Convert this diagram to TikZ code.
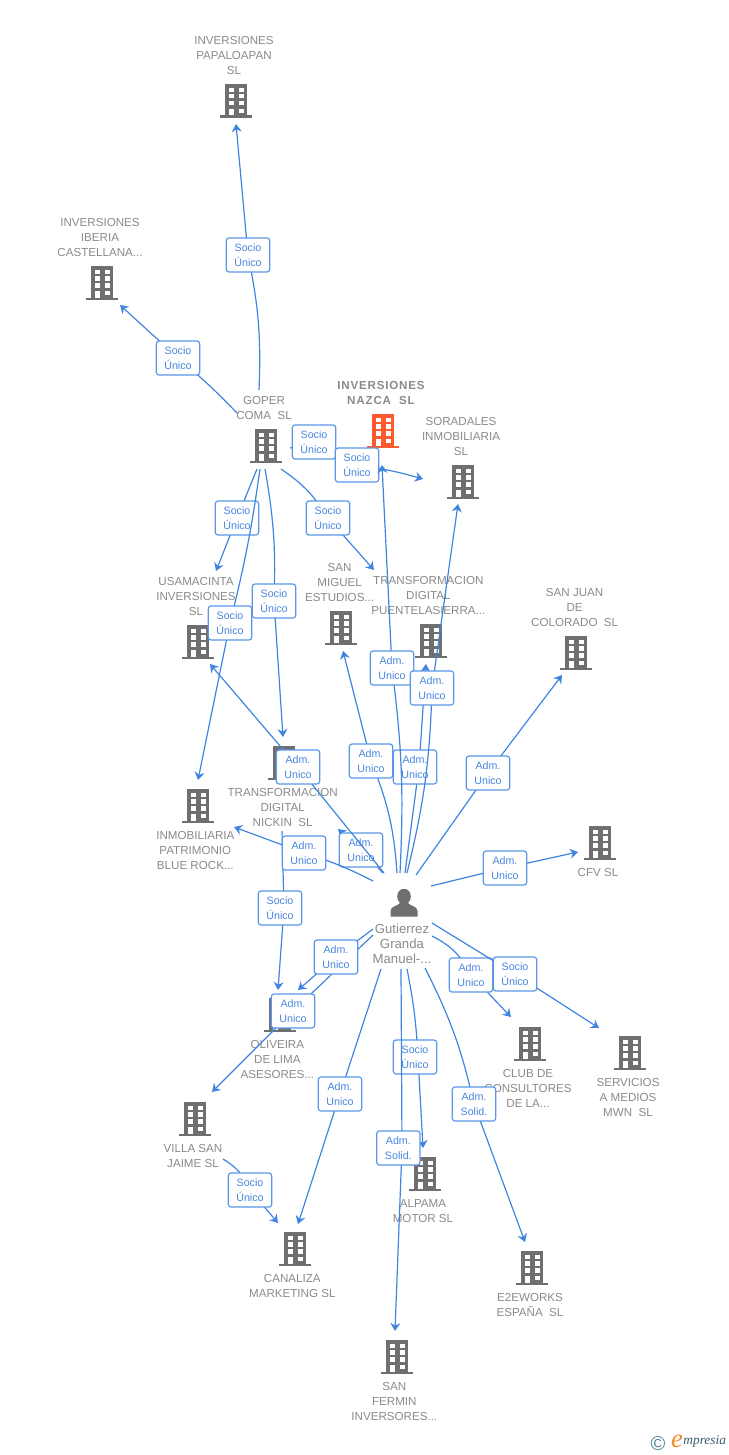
\documentclass[tikz,border=0pt]{standalone}
\usepackage{fontspec}
\setmainfont{Liberation Sans}
\newfontfamily\logofont{Liberation Serif}
\usetikzlibrary{positioning,arrows.meta}
\definecolor{linkBlue}{HTML}{3F85E0}
\definecolor{boxBlue}{HTML}{5B97E8}
\definecolor{relText}{HTML}{4A86E0}
\definecolor{nameGray}{HTML}{8A8A8A}
\definecolor{iconGray}{HTML}{6F6F6F}
\definecolor{iconRed}{HTML}{FF5A2E}
\definecolor{logoBlue}{HTML}{4F8199}
\definecolor{logoOrange}{HTML}{F28C28}
\tikzset{
  icon/.style={inner sep=0pt, minimum width=24pt, minimum height=25.5pt,
    path picture={
      \begin{scope}[shift={(path picture bounding box.center)}, x=.75pt, y=-.75pt]
        \fill[#1] (-11,-17) rectangle (11,15);
        \fill[#1] (-16,14.5) rectangle (16,17);
        \foreach \y in {-13,-6.7,.3,7.7} {
          \fill[white] (-7.3,\y) rectangle (-2.3,\y+4.2);
          \fill[white] (2.7,\y) rectangle (7.7,\y+4.2);
        }
        \fill[white] (-7.3,7.7) rectangle (-2.3,14.5);
      \end{scope}
    }},
  icon/.default=iconGray,
  personicon/.style={inner sep=0pt, minimum width=30pt, minimum height=21pt,
    path picture={
      \begin{scope}[shift={(path picture bounding box.center)}, x=.75pt, y=-.75pt]
        \fill[iconGray] (0,-6.5) ellipse (6.8 and 7.8);
        \fill[iconGray] (-13.5,13.5) -- (-13.5,8) .. controls (-13.5,3) and (-6,3) .. (-4,0)
          -- (4,0) .. controls (6,3) and (13.5,3) .. (13.5,8) -- (13.5,13.5) -- cycle;
      \end{scope}
    }},
  ename/.style={inner sep=0pt, align=center, text=nameGray, font=\fontsize{8.7}{11.25}\selectfont},
  link/.style={draw=linkBlue, line width=.9pt, -{Stealth[length=6pt,width=7.5pt,inset=2pt]}},
  rel/.style={draw=boxBlue, fill=white, rounded corners=2pt, line width=.9pt, inner sep=0pt,
    minimum width=32.5pt, minimum height=25.5pt, align=center, text=relText,
    font=\fontsize{8}{11.25}\selectfont}
}
\begin{document}
\begin{tikzpicture}[x=.75pt, y=-.75pt]
  \useasboundingbox (0,0) rectangle (728,1455);

  % Companies and their names
  \node[icon] (papaloapan) at (236,101) {};
  \node[ename, above=7pt of papaloapan, xshift=-1.5pt] (papaloapanName) {INVERSIONES\\PAPALOAPAN\\SL};
  \node[icon] (iberia) at (102,283) {};
  \node[ename, above=7pt of iberia, xshift=-1.5pt] (iberiaName) {INVERSIONES\\IBERIA\\CASTELLANA...};
  \node[icon] (goper) at (266,446) {};
  \node[ename, above=7pt of goper, xshift=-1.5pt] (goperName) {GOPER\\COMA\ \ SL};
  \node[icon=iconRed] (nazca) at (383,431) {};
  \node[ename, above=7pt of nazca, xshift=-1.5pt, font=\fontsize{8.7}{11.25}\selectfont\bfseries\addfontfeatures{LetterSpace=7}] (nazcaName) {INVERSIONES\\NAZCA\ \ SL};
  \node[icon] (soradales) at (463,482) {};
  \node[ename, above=7pt of soradales, xshift=-1.5pt] (soradalesName) {SORADALES\\INMOBILIARIA\\SL};
  \node[icon] (usamacinta) at (198,642) {};
  \node[ename, above=7pt of usamacinta, xshift=-1.5pt] (usamacintaName) {USAMACINTA\\INVERSIONES\\SL};
  \node[icon] (sanmiguel) at (341,628) {};
  \node[ename, above=7pt of sanmiguel, xshift=-1pt] (sanmiguelName) {SAN\\MIGUEL\\ESTUDIOS...};
  \node[icon] (puente) at (431,641) {};
  \node[ename, above=7pt of puente, xshift=-2pt] (puenteName) {TRANSFORMACION\\DIGITAL\\PUENTELASIERRA...};
  \node[icon] (sanjuan) at (576,653) {};
  \node[ename, above=7pt of sanjuan, xshift=-1pt] (sanjuanName) {SAN JUAN\\DE\\COLORADO\ \ SL};
  \node[icon] (nickin) at (284,763) {};
  \node[ename, below=6pt of nickin, xshift=-1pt] (nickinName) {TRANSFORMACION\\DIGITAL\\NICKIN\ \ SL};
  \node[icon] (inmobiliaria) at (198,806) {};
  \node[ename, below=6pt of inmobiliaria, xshift=-2pt] (inmobiliariaName) {INMOBILIARIA\\PATRIMONIO\\BLUE ROCK...};
  \node[icon] (cfv) at (600,843) {};
  \node[ename, below=6pt of cfv, xshift=-1.5pt] (cfvName) {CFV SL};
  \node[icon] (oliveira) at (280,1015) {};
  \node[ename, below=6pt of oliveira, xshift=-2pt] (oliveiraName) {OLIVEIRA\\DE LIMA\\ASESORES...};
  \node[icon] (villa) at (195,1119) {};
  \node[ename, below=6pt of villa, xshift=-1.5pt] (villaName) {VILLA SAN\\JAIME SL};
  \node[icon] (club) at (530,1044) {};
  \node[ename, below=6pt of club, xshift=-1.5pt] (clubName) {CLUB DE\\CONSULTORES\\DE LA...};
  \node[icon] (servicios) at (630,1053) {};
  \node[ename, below=6pt of servicios, xshift=-1.5pt] (serviciosName) {SERVICIOS\\A MEDIOS\\MWN\ \ SL};
  \node[icon] (canaliza) at (295,1249) {};
  \node[ename, below=6pt of canaliza, xshift=-2pt] (canalizaName) {CANALIZA\\MARKETING SL};
  \node[icon] (alpama) at (425,1174) {};
  \node[ename, below=6pt of alpama, xshift=-1.5pt] (alpamaName) {ALPAMA\\MOTOR SL};
  \node[icon] (e2eworks) at (532,1268) {};
  \node[ename, below=6pt of e2eworks, xshift=-1.5pt] (e2eworksName) {E2EWORKS\\ESPAÑA\ \ SL};
  \node[icon] (sanfermin) at (397,1357) {};
  \node[ename, below=6pt of sanfermin, xshift=-2pt] (sanferminName) {SAN\\FERMIN\\INVERSORES...};

  % The person
  \node[personicon] (person) at (404,903) {};
  \node[ename, below=4.5pt of person, xshift=-1.5pt, font=\fontsize{9.9}{11.25}\selectfont] (personName) {Gutierrez\\Granda\\Manuel-...};

  % Socio Unico links
  \draw[link] ([shift={(-2,68)}]nickin.center) -- (284,908) node[rel, xshift=-3pt] (relNickinOliveira) {Socio\\Único} -- ([shift={(-2,-25)}]oliveira.center);
  \draw[link] ([shift={(-7,-56)}]goper.center) to[bend right=7] (248,255) node[rel] (relPapaloapan) {Socio\\Único} -- ([shift={(0,23)}]papaloapan.center);
  \draw[link] ([shift={(-29,-33)}]goper.center) to[bend right=3] (178,358) node[rel] (relIberia) {Socio\\Único} -- ([shift={(18,22)}]iberia.center);
  \draw[link] ([shift={(-9,23)}]goper.center) -- (237,518) node[rel] (relUsamacinta) {Socio\\Único} -- ([shift={(18,-71)}]usamacinta.center);
  \draw[link] ([shift={(-6,23)}]goper.center) to[bend left=3] (230,623) node[rel] (relInmobiliaria) {Socio\\Único} -- ([shift={(0,-26)}]inmobiliaria.center);
  \draw[link] ([shift={(-1,23)}]goper.center) to[bend left=6] (274,601) node[rel] (relNickin) {Socio\\Único} -- ([shift={(-1,-26)}]nickin.center);
  \draw[link] ([shift={(15,23)}]goper.center) to[bend left=12] (328,518) node[rel] (relPuente) {Socio\\Único} -- ([shift={(-57,-71)}]puente.center);
  \draw[link] ([shift={(24,2)}]goper.center) -- (314,442) node[rel] (relNazca) {Socio\\Único} -- ([shift={(-38,24)}]nazca.center);
  \draw[link] ([shift={(-8,28)}]nazca.center) to (357,465) node[rel] (relSoradales) {Socio\\Único} to[bend left=4] ([shift={(-40,-3)}]soradales.center);
  \draw[link] ([shift={(28,40)}]villa.center) to[bend left=18] (250,1190) node[rel] (relCanaliza) {Socio\\Único} -- ([shift={(-17,-26)}]canaliza.center);

  % Links of the person, in the order they overlap
  \draw[link] ([shift={(-21,-30)}]person.center) -- (361,850) node[rel] (admNickin) {Adm.\\Unico} -- ([shift={(54,66)}]nickin.center);
  \draw[link] ([shift={(1,-30)}]person.center) -- (419,767) node[rel, xshift=-3pt] (admPuente) {Adm.\\Unico} -- ([shift={(-5,23)}]puente.center);
  \draw[link] ([shift={(-7,-30)}]person.center) to[bend right=9] (371,761) node[rel] (admSanmiguel) {Adm.\\Unico} -- ([shift={(2,23)}]sanmiguel.center);
  \draw[link] ([shift={(-4,-30)}]person.center) to[bend right=5] (392,668) node[rel] (admNazca) {Adm.\\Unico} -- ([shift={(-1,34)}]nazca.center);
  \draw[link] ([shift={(3,-30)}]person.center) to[bend right=6] (432,688) node[rel] (admSoradales) {Adm.\\Unico} -- ([shift={(-5,22)}]soradales.center);
  \draw[link] ([shift={(12,-28)}]person.center) -- (488,773) node[rel] (admSanjuan) {Adm.\\Unico} -- ([shift={(-14,22)}]sanjuan.center);
  \draw[link] ([shift={(27,-17)}]person.center) -- (505,868) node[rel] (admCfv) {Adm.\\Unico} -- ([shift={(-22,9)}]cfv.center);
  \draw[link] ([shift={(-20,-30)}]person.center) -- (298,767) node[rel] (admUsamacinta) {Adm.\\Unico} -- ([shift={(12,22)}]usamacinta.center);
  \draw[link] ([shift={(-31,-22)}]person.center) to[bend right=5] (304,853) node[rel] (admInmobiliaria) {Adm.\\Unico} -- ([shift={(36,21)}]inmobiliaria.center);
  \draw[link] ([shift={(28,33)}]person.center) to[bend left=18] (471,975) node[rel] (admClub) {Adm.\\Unico} -- ([shift={(-19,-27)}]club.center);
  \draw[link] ([shift={(28,20)}]person.center) -- (515,974) node[rel] (socioServicios) {Socio\\Único} -- ([shift={(-31,-25)}]servicios.center);
  \draw[link] ([shift={(-31,32)}]person.center) -- (293,1011) node[rel] (admVilla) {Adm.\\Unico} -- ([shift={(17,-27)}]villa.center);
  \draw[link] ([shift={(-31,26)}]person.center) -- (336,957) node[rel] (admOliveira) {Adm.\\Unico} -- ([shift={(18,-25)}]oliveira.center);
  \draw[link] ([shift={(-23,66)}]person.center) -- (340,1094) node[rel] (admCanaliza) {Adm.\\Unico} -- ([shift={(3,-25)}]canaliza.center);
  \draw[link] ([shift={(3,66)}]person.center) to[bend left=4] (418,1057) node[rel, xshift=-2.25pt] (socioAlpama) {Socio\\Único} -- ([shift={(-2,-26)}]alpama.center);
  \draw[link] ([shift={(-3,66)}]person.center) -- (402,1148) node[rel, xshift=-2.75pt] (admSanfermin) {Adm.\\Solid.} -- ([shift={(-2,-26)}]sanfermin.center);
  \draw[link] ([shift={(21,65)}]person.center) to[bend left=7] (474,1104) node[rel] (admE2eworks) {Adm.\\Solid.} -- ([shift={(-7,-26)}]e2eworks.center);

  % Logo
  \node[inner sep=0pt, text=logoBlue, font=\fontsize{15}{15}\selectfont] (logoMark) at (658,1444) {©};
  \node[inner sep=0pt, text=logoOrange, font=\logofont\itshape\fontsize{20}{20}\selectfont] (logoE) at (677,1441) {e};
  \node[inner sep=0pt, text=logoBlue!70!black, font=\logofont\itshape\fontsize{10}{10}\selectfont, right=0pt of logoE, yshift=-.5pt] (logoText) {mpresia};
\end{tikzpicture}
\end{document}
